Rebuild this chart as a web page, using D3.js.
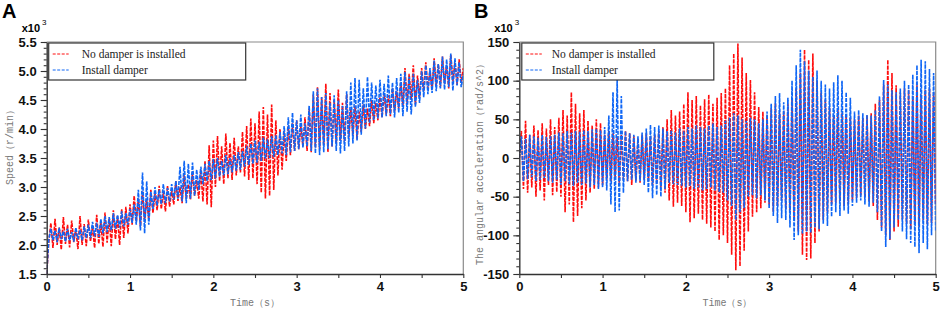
<!DOCTYPE html>
<html>
<head>
<meta charset="utf-8">
<script src="https://cdn.jsdelivr.net/npm/d3@7"></script>
<style>
  body { margin: 0; background: #fff; }
  svg { display: block; }
</style>
</head>
<body>
<svg id="chart" width="941" height="309"></svg>
<script>
// time between two samples (s)
const timeStep = 0.025;
const timeTicks = [0, 1, 2, 3, 4, 5];
const speedTicks = [1.5, 2.0, 2.5, 3.0, 3.5, 4.0, 4.5, 5.0, 5.5];
const accelTicks = [-150, -100, -50, 0, 50, 100, 150];
const seriesNames = ["No damper is installed", "Install damper"];

// speed, x10^3 r/min
const speedNoDamper = [
    1.50, 2.05, 2.38, 1.95, 2.45, 2.00, 2.30, 1.92, 2.48, 2.02,
    2.35, 1.96, 2.42, 2.05, 2.28, 1.93, 2.50, 2.00, 2.36, 1.98,
    2.44, 2.06, 2.32, 1.95, 2.52, 2.02, 2.40, 1.97, 2.56, 2.04,
    2.46, 1.98, 2.60, 2.10, 2.50, 2.00, 2.62, 2.12, 2.66, 2.20,
    2.70, 2.35, 2.85, 2.40, 2.80, 2.32, 2.92, 2.42, 2.78, 2.45,
    2.95, 2.55, 2.88, 2.60, 3.02, 2.62, 2.92, 2.58, 3.02, 2.66,
    2.95, 2.70, 3.10, 2.76, 3.00, 2.72, 3.20, 2.80, 3.05, 2.78,
    3.25, 2.85, 3.12, 2.80, 3.30, 2.75, 3.45, 2.70, 3.72, 2.65,
    3.80, 3.00, 3.88, 3.10, 3.70, 3.05, 3.92, 3.15, 3.76, 3.12,
    3.85, 3.20, 3.70, 3.25, 3.95, 3.18, 4.05, 3.12, 4.18, 3.15,
    4.10, 3.05, 4.30, 2.90, 4.38, 2.80, 4.25, 2.85, 4.42, 2.95,
    4.15, 3.20, 4.00, 3.30, 3.95, 3.45, 4.05, 3.55, 4.10, 3.62,
    4.15, 3.65, 4.05, 3.70, 4.20, 3.62, 4.35, 3.60, 4.60, 3.68,
    4.72, 3.65, 4.55, 3.72, 4.78, 3.60, 4.62, 3.70, 4.50, 3.75,
    4.68, 3.80, 4.45, 3.78, 4.60, 3.85, 4.35, 3.90, 4.40, 3.82,
    4.30, 3.95, 4.42, 4.00, 4.35, 4.05, 4.50, 4.10, 4.45, 4.15,
    4.55, 4.20, 4.62, 4.25, 4.58, 4.22, 4.70, 4.30, 4.65, 4.35,
    4.80, 4.40, 5.05, 4.45, 4.95, 4.50, 5.10, 4.42, 4.92, 4.55,
    5.05, 4.65, 5.15, 4.70, 5.00, 4.68, 5.22, 4.75, 5.12, 4.72,
    5.25, 4.78, 5.10, 4.70, 5.28, 4.82, 5.15, 4.76, 5.20, 4.80,
    5.05
];
const speedDamper = [
    1.50, 2.10, 2.28, 2.08, 2.25, 2.05, 2.30, 2.10, 2.24, 2.06,
    2.28, 2.08, 2.22, 2.06, 2.30, 2.10, 2.26, 2.08, 2.32, 2.12,
    2.35, 2.12, 2.40, 2.15, 2.38, 2.14, 2.45, 2.20, 2.50, 2.22,
    2.48, 2.25, 2.55, 2.28, 2.52, 2.30, 2.58, 2.32, 2.55, 2.35,
    2.62, 2.38, 2.70, 2.35, 2.95, 2.25, 3.25, 2.20, 3.10, 2.35,
    2.92, 2.62, 3.00, 2.68, 2.95, 2.70, 3.05, 2.72, 2.98, 2.75,
    3.05, 2.78, 3.10, 2.80, 3.35, 2.75, 3.45, 2.72, 3.40, 2.80,
    3.42, 2.85, 3.30, 2.95, 3.35, 3.05, 3.40, 3.10, 3.45, 3.12,
    3.48, 3.15, 3.50, 3.18, 3.45, 3.20, 3.55, 3.22, 3.50, 3.25,
    3.55, 3.28, 3.60, 3.30, 3.62, 3.35, 3.70, 3.38, 3.75, 3.40,
    3.80, 3.42, 3.78, 3.45, 3.85, 3.48, 3.82, 3.50, 3.88, 3.52,
    3.90, 3.55, 3.95, 3.58, 4.05, 3.55, 4.20, 3.60, 4.28, 3.62,
    4.15, 3.65, 4.25, 3.68, 4.10, 3.70, 4.40, 3.62, 4.65, 3.58,
    4.70, 3.55, 4.55, 3.60, 4.62, 3.65, 4.45, 3.70, 4.58, 3.62,
    4.50, 3.58, 4.40, 3.62, 4.65, 3.70, 4.80, 3.75, 4.88, 3.80,
    4.85, 3.90, 4.70, 4.00, 4.90, 4.10, 4.80, 4.15, 4.75, 4.18,
    4.85, 4.20, 4.78, 4.22, 4.92, 4.25, 4.80, 4.20, 4.88, 4.28,
    4.95, 4.22, 4.98, 4.30, 4.90, 4.25, 4.95, 4.38, 4.85, 4.45,
    5.00, 4.55, 5.10, 4.60, 5.05, 4.62, 5.18, 4.65, 5.12, 4.70,
    5.25, 4.68, 5.20, 4.72, 5.30, 4.66, 5.22, 4.75, 5.15, 4.72,
    4.95
];

// angular acceleration, x10^3 rad/s^2
const accelNoDamper = [
    0, 35, -40, 48, -45, 30, -38, 42, -50, 36,
    -42, 45, -55, 38, -35, 50, -48, 40, -44, 52,
    -50, 62, -70, 55, -60, 85, -83, 70, -75, 58,
    -65, 62, -55, 48, -45, 42, -40, 50, -38, 45,
    -35, 30, -28, 35, -30, 32, -25, 28, -32, 30,
    -28, 35, -30, 32, -35, 28, -30, 25, -32, 30,
    -28, 32, -30, 28, -35, 30, -32, 35, -38, 40,
    -45, 50, -55, 62, -63, 55, -58, 60, -62, 70,
    -70, 85, -83, 75, -78, 80, -72, 68, -80, 76,
    -85, 82, -90, 70, -95, 78, -106, 84, -100, 90,
    -110, 120, -125, 135, -145, 148, -140, 130, -120, 110,
    -95, 101, -76, 85, -70, 66, -65, 60, -58, 55,
    -60, 65, -70, 71, -62, 58, -55, 60, -66, 70,
    -68, 75, -80, 90, -95, 110, -125, 140, -132, 127,
    -130, 135, -110, 100, -95, 85, -80, 75, -70, 65,
    -60, 55, -58, 62, -55, 58, -62, 56, -60, 52,
    -55, 50, -52, 55, -48, 52, -50, 55, -56, 58,
    -62, 70, -80, 75, -90, 95, -100, 127, -106, 110,
    -95, 94, -89, 85, -80, 90, -85, 88, -92, 80,
    -85, 94, -89, 82, -80, 88, -86, 90, -84, 85,
    -60
];
const accelDamper = [
    0, 28, -30, 25, -27, 30, -25, 28, -30, 26,
    -28, 30, -26, 27, -30, 28, -32, 30, -28, 33,
    -35, 32, -30, 35, -34, 33, -36, 35, -32, 34,
    -35, 36, -33, 35, -38, 37, -35, 38, -40, 36,
    -38, 40, -42, 55, -60, 85, -70, 101, -68, 80,
    -45, 35, -30, 32, -28, 30, -32, 28, -30, 33,
    -35, 38, -45, 43, -52, 40, -48, 42, -50, 38,
    -40, 35, -32, 36, -34, 33, -35, 38, -36, 35,
    -38, 40, -36, 38, -40, 42, -38, 40, -42, 38,
    -40, 42, -38, 45, -42, 40, -44, 42, -45, 48,
    -55, 52, -62, 58, -80, 55, -70, 50, -65, 48,
    -50, 52, -48, 50, -52, 45, -48, 50, -55, 60,
    -65, 70, -75, 80, -84, 84, -78, 72, -80, 78,
    -90, 100, -106, 120, -100, 140, -98, 125, -95, 113,
    -97, 105, -90, 113, -92, 100, -85, 95, -88, 90,
    -76, 98, -70, 107, -75, 100, -68, 85, -72, 78,
    -62, 60, -58, 62, -55, 58, -60, 56, -63, 55,
    -58, 62, -70, 80, -95, 101, -115, 95, -105, 88,
    -90, 85, -80, 90, -95, 100, -105, 95, -110, 108,
    -115, 120, -123, 127, -110, 125, -118, 115, -100, 110,
    -95
];

const colors = ["#ff0d0d", "#0f66f5"];

/**
 * Draw one panel (axes, frame, both series, legend)
 * @param svg
 * @param p panel settings
 */
function drawPanel(svg, p) {
    let x = d3.scaleLinear().domain([0, 5]).range([p.left, p.right]);
    let y = d3.scaleLinear().domain(p.yDomain).range([p.bottom, p.top]);

    let g = svg.append("g");

    // clip so the lines stay inside the box
    g.append("clipPath").attr("id", p.id + "-clip")
        .append("rect")
        .attr("x", p.left).attr("y", p.top)
        .attr("width", p.right - p.left).attr("height", p.bottom - p.top);

    // frame top and right
    g.append("path")
        .attr("d", `M${p.left},${p.top}H${p.right}V${p.bottom}`)
        .attr("fill", "none")
        .attr("stroke", "#8a8a8a")
        .attr("stroke-width", 1.2);

    let line = d3.line()
        .x((d, i) => x(i * timeStep))
        .y(d => y(d));

    let lines = g.append("g").attr("clip-path", `url(#${p.id}-clip)`);
    p.series.forEach((s, k) => {
        lines.append("path")
            .attr("d", line(s))
            .attr("fill", "none")
            .attr("stroke", colors[k])
            .attr("stroke-width", 1.6)
            .attr("stroke-dasharray", "4,1.2");
    });

    // minor ticks
    g.append("g")
        .attr("transform", `translate(${p.left},0)`)
        .call(d3.axisLeft(y).tickValues(d3.range(p.yDomain[0], p.yDomain[1] + 1e-9, p.yMinor)).tickSize(3).tickFormat(""))
        .call(a => a.select(".domain").remove());
    g.append("g")
        .attr("transform", `translate(0,${p.bottom})`)
        .call(d3.axisBottom(x).tickValues(d3.range(0.5, 5, 1)).tickSize(4).tickFormat(""))
        .call(a => a.select(".domain").remove());

    // major ticks
    g.append("g")
        .attr("transform", `translate(${p.left},0)`)
        .call(d3.axisLeft(y).tickValues(p.yTicks).tickSize(6).tickPadding(4).tickSizeOuter(0).tickFormat(p.yFormat));
    g.append("g")
        .attr("transform", `translate(0,${p.bottom})`)
        .call(d3.axisBottom(x).tickValues(timeTicks).tickSize(4).tickPadding(4).tickSizeOuter(0).tickFormat(d => d));

    g.selectAll(".tick line").attr("stroke", "#333").attr("stroke-width", 1.1);
    g.selectAll(".domain").attr("stroke", "#333").attr("stroke-width", 1.4);
    g.selectAll(".tick text")
        .attr("fill", "#111")
        .style("font-family", "'Liberation Sans', Arial, sans-serif")
        .style("font-size", "13px")
        .style("font-weight", "bold");

    // panel letter and exponent
    g.append("text")
        .attr("x", p.letterX).attr("y", 18)
        .text(p.letter)
        .style("font-family", "'Liberation Sans', Arial, sans-serif")
        .style("font-size", "20px")
        .style("font-weight", "bold");
    let ex = g.append("text")
        .attr("x", p.left - 25).attr("y", 32)
        .style("font-family", "'Liberation Sans', Arial, sans-serif")
        .style("font-size", "11px")
        .style("font-weight", "bold");
    ex.append("tspan").text("x10");
    ex.append("tspan").attr("dy", -7).attr("dx", 2).style("font-size", "8px").style("font-weight", "normal").text("3");

    // axis titles
    g.append("text")
        .attr("x", (p.left + p.right) / 2).attr("y", 306)
        .attr("text-anchor", "middle")
        .attr("fill", "#777")
        .style("font-family", "'Liberation Mono', monospace")
        .style("font-size", "10px")
        .text("Time（s）");
    g.append("text")
        .attr("transform", `translate(${p.titleX},${p.titleY}) rotate(-90)`)
        .attr("text-anchor", "middle")
        .attr("fill", "#777")
        .style("font-family", "'Liberation Mono', monospace")
        .style("font-size", "10px")
        .text(p.yTitle);

    // legend
    let lg = g.append("g").attr("transform", `translate(${p.left + p.legendDx},43)`);
    lg.append("rect")
        .attr("width", p.legendW).attr("height", 37)
        .attr("fill", "#fff")
        .attr("stroke", "#333")
        .attr("stroke-width", 1.2);
    seriesNames.forEach((name, k) => {
        lg.append("line")
            .attr("x1", 4).attr("x2", 20)
            .attr("y1", 11 + k * 16).attr("y2", 11 + k * 16)
            .attr("stroke", colors[k])
            .attr("stroke-dasharray", "3,1.5");
        lg.append("text")
            .attr("x", p.legendTextX).attr("y", 15 + k * 16)
            .attr("fill", "#222")
            .style("font-family", "'Liberation Serif', 'Times New Roman', serif")
            .style("font-size", "11.5px")
            .text(name);
    });
}

let svg = d3.select("#chart");

drawPanel(svg, {
    id: "speed", letter: "A", letterX: 2,
    left: 46.7, right: 463.3, top: 42, bottom: 274,
    yDomain: [1.5, 5.5], yTicks: speedTicks, yMinor: 0.1,
    yFormat: d3.format(".1f"),
    yTitle: "Speed（r/min）", titleX: 13, titleY: 145,
    legendDx: 2, legendW: 197, legendTextX: 33,
    series: [speedNoDamper, speedDamper]
});

drawPanel(svg, {
    id: "accel", letter: "B", letterX: 474,
    left: 519.3, right: 935.7, top: 42, bottom: 274,
    yDomain: [-150, 150], yTicks: accelTicks, yMinor: 10,
    yFormat: d => String(d),
    yTitle: "The angular acceleration（rad/s^2）", titleX: 483, titleY: 162,
    legendDx: 2.5, legendW: 192, legendTextX: 30,
    series: [accelNoDamper, accelDamper]
});
</script>
</body>
</html>
